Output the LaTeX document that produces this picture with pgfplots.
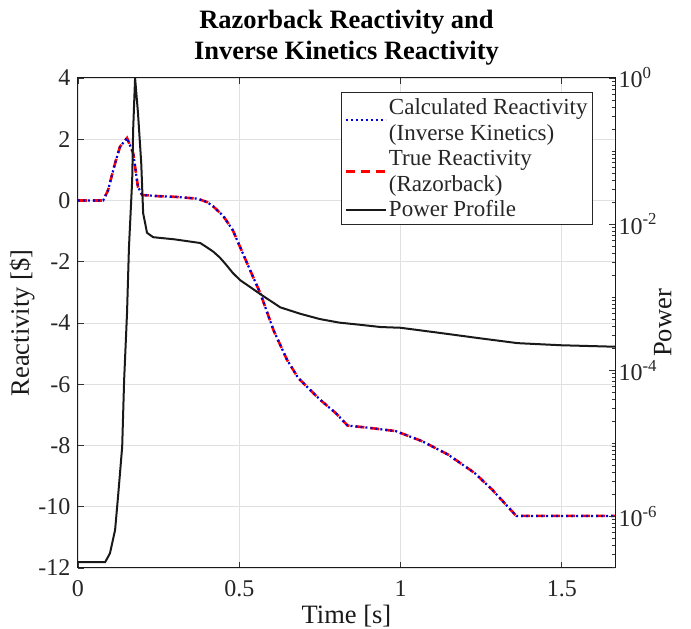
\documentclass[border=0pt]{standalone}
\usepackage{fontspec}
\setmainfont{Liberation Serif}
\usepackage{pgfplots}
\pgfplotsset{compat=1.18}
\begin{document}
\begin{tikzpicture}
\pgfplotsset{
  every axis/.append style={
    width=537pt, height=490pt, scale only axis, at={(0pt,0pt)}, anchor=south west,
    xmin=0, xmax=1.665,
    tick label style={font=\fontsize{24}{28}\selectfont, text=black!85},
    label style={font=\fontsize{26.5}{30}\selectfont, text=black!90},
    major tick length=6pt, minor tick length=3.5pt,
    tick style={line width=0.8pt, color=black!80},
    axis line style={line width=1pt, color=black!90},
  }
}
\begin{axis}[
  ymin=-12, ymax=4,
  xtick={0,0.5,1,1.5}, xticklabels={0,0.5,1,1.5},
  ytick={-12,-10,-8,-6,-4,-2,0,2,4}, yticklabels={-12,-10,-8,-6,-4,-2,0,2,4},
  ytick pos=left,
  yticklabel style={xshift=-4pt},
  xticklabel style={anchor=north, yshift=-9pt},
  grid=major, grid style={line width=0.8pt, color=black!12},
  xlabel={Time [s]}, ylabel={Reactivity [\$]},
  xlabel style={at={(axis description cs:0.5,-0.099)}, anchor=center},
  ylabel style={at={(axis description cs:-0.104,0.5)}, anchor=center},
  title={Razorback Reactivity and\\Inverse Kinetics Reactivity},
  title style={font=\bfseries\fontsize{26.5}{31}\selectfont, align=center, at={(axis description cs:0.5,1.071)}, anchor=center},
]
\addplot[red, line width=2.6pt, dash pattern=on 9pt off 6pt] coordinates {
(0,0) (0.078,0) (0.093,0.33) (0.115,1.22) (0.130,1.75) (0.152,2.04) (0.171,1.55) (0.186,0.44) (0.199,0.18) (0.25,0.14) (0.30,0.12) (0.37,0.06) (0.40,-0.05) (0.42,-0.2) (0.45,-0.5) (0.48,-0.97) (0.524,-2.04) (0.545,-2.55) (0.565,-3.02) (0.606,-4.23) (0.648,-5.2) (0.683,-5.8) (0.75,-6.5) (0.80,-6.95) (0.836,-7.35) (0.9,-7.42) (0.985,-7.53) (1.067,-7.86) (1.148,-8.30) (1.23,-8.9) (1.284,-9.44) (1.359,-10.3) (1.665,-10.3)
};
\addplot[blue!85!black, line width=2.2pt, dash pattern=on 2pt off 3pt] coordinates {
(0,0) (0.078,0) (0.093,0.33) (0.115,1.22) (0.130,1.75) (0.152,2.04) (0.171,1.55) (0.186,0.44) (0.199,0.18) (0.25,0.14) (0.30,0.12) (0.37,0.06) (0.40,-0.05) (0.42,-0.2) (0.45,-0.5) (0.48,-0.97) (0.524,-2.04) (0.545,-2.55) (0.565,-3.02) (0.606,-4.23) (0.648,-5.2) (0.683,-5.8) (0.75,-6.5) (0.80,-6.95) (0.836,-7.35) (0.9,-7.42) (0.985,-7.53) (1.067,-7.86) (1.148,-8.30) (1.23,-8.9) (1.284,-9.44) (1.359,-10.3) (1.665,-10.3)
};
\end{axis}
\begin{axis}[
  ymode=log, ymin=1.95e-7, ymax=1,
  axis x line=none, axis y line*=right,
  ytick={1e-6,1e-4,1e-2,1},
  yticklabels={10\textsuperscript{-6},10\textsuperscript{-4},10\textsuperscript{-2},10\textsuperscript{0}},
  minor ytick={2e-7,3e-7,4e-7,5e-7,6e-7,7e-7,8e-7,9e-7,2e-6,3e-6,4e-6,5e-6,6e-6,7e-6,8e-6,9e-6,1e-5,2e-5,3e-5,4e-5,5e-5,6e-5,7e-5,8e-5,9e-5,2e-4,3e-4,4e-4,5e-4,6e-4,7e-4,8e-4,9e-4,1e-3,2e-3,3e-3,4e-3,5e-3,6e-3,7e-3,8e-3,9e-3,2e-2,3e-2,4e-2,5e-2,6e-2,7e-2,8e-2,9e-2,1e-1,2e-1,3e-1,4e-1,5e-1,6e-1,7e-1,8e-1,9e-1},
  ylabel={Power},
  ylabel style={at={(axis description cs:1.089,0.5)}, anchor=center},
  legend style={at={(axis description cs:0.959,0.971)}, anchor=north east, draw=black!85, line width=0.8pt,
    font=\fontsize{23}{26}\selectfont, text=black!85, cells={align=left}, inner xsep=3pt, inner ysep=4pt, row sep=4pt},
  legend cell align=left,
  legend image code/.code={\draw[#1] (0pt,0pt) -- (40pt,0pt);},
]
\addlegendimage{blue!85!black, line width=2.2pt, dash pattern=on 2pt off 3pt}
\addlegendentry{Calculated Reactivity\\(Inverse Kinetics)}
\addlegendimage{red, line width=2.6pt, dash pattern=on 9pt off 6pt}
\addlegendentry{True Reactivity\\(Razorback)}
\addplot[black!90, line width=2pt] coordinates {
(0,2.34e-7) (0.084,2.34e-7) (0.099,3.09e-7) (0.115,6.46e-7) (0.124,1.82e-6) (0.137,8.91e-6) (0.143,7.24e-5) (0.152,6.03e-4) (0.158,4.79e-3) (0.168,3.98e-2) (0.171,0.195) (0.177,1) (0.186,0.331) (0.196,0.0692) (0.202,0.0141) (0.214,7.59e-3) (0.233,6.61e-3) (0.255,6.46e-3) (0.30,6.17e-3) (0.379,5.50e-3) (0.40,4.79e-3) (0.42,4.17e-3) (0.44,3.47e-3) (0.46,2.75e-3) (0.48,2.14e-3) (0.503,1.70e-3) (0.53,1.41e-3) (0.565,1.10e-3) (0.627,7.24e-4) (0.69,5.89e-4) (0.75,5.0e-4) (0.81,4.47e-4) (0.876,4.17e-4) (0.938,3.89e-4) (1.0,3.80e-4) (1.12,3.24e-4) (1.24,2.75e-4) (1.363,2.34e-4) (1.497,2.19e-4) (1.665,2.09e-4)
};
\addlegendentry{Power Profile}
\end{axis}
\pgfresetboundingbox
\useasboundingbox (-78pt,-61pt) rectangle (613pt,568pt);
\end{tikzpicture}
\end{document}
